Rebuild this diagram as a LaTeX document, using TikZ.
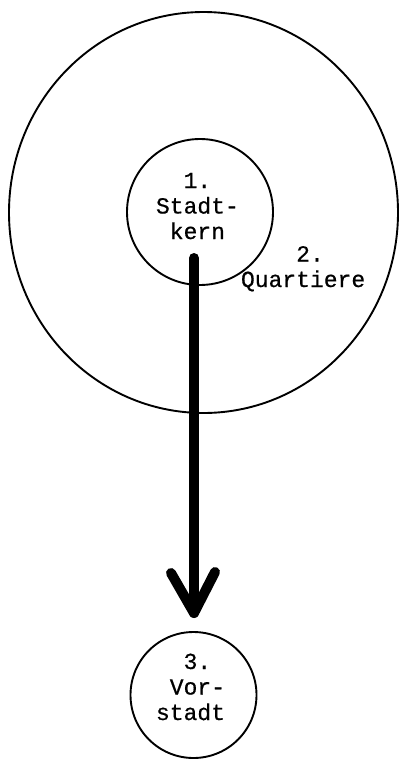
\documentclass[tikz,border=0pt]{standalone}
\usepackage{fontspec}
\setmonofont[RawFeature={embolden=0.6}]{Liberation Mono}
\usetikzlibrary{shapes.geometric,calc}
\begin{document}
\begin{tikzpicture}[x=1pt,y=-1pt,
  ring/.style={draw=black,line width=1.9pt,inner sep=0pt,outer sep=0pt},
  label/.style={inner sep=0pt,outer sep=0pt,align=left,anchor=base west,
    font=\ttfamily\fontsize{23}{25.5}\selectfont},
  shaft/.style={line width=10pt,line cap=round,line join=round}]
\useasboundingbox (0,0) rectangle (399,760);
\node[ring,ellipse,minimum width=389pt,minimum height=401pt] (quarters) at (203.5,212.5) {};
\node[ring,circle,minimum size=146pt] (core) at (200,212) {};
\node[ring,circle,minimum size=126pt] (suburb) at (193.5,695) {};
\node[label] (coretext) at (156,239) {\ \ 1.\\Stadt-\\\ kern};
\node[label] (quartext) at (241,287) {\ \ \ \ 2.\\Quartiere};
\node[label] (suburbtext) at (156,720) {\ \ 3.\\\ Vor-\\stadt};
\coordinate (start) at (194,258);
\coordinate (tip) at (194,613);
\draw[shaft] (start) -- (tip);
\draw[shaft] ($(tip)+(-23,-40)$) -- (tip) -- ($(tip)+(21,-41)$);
\end{tikzpicture}
\end{document}
